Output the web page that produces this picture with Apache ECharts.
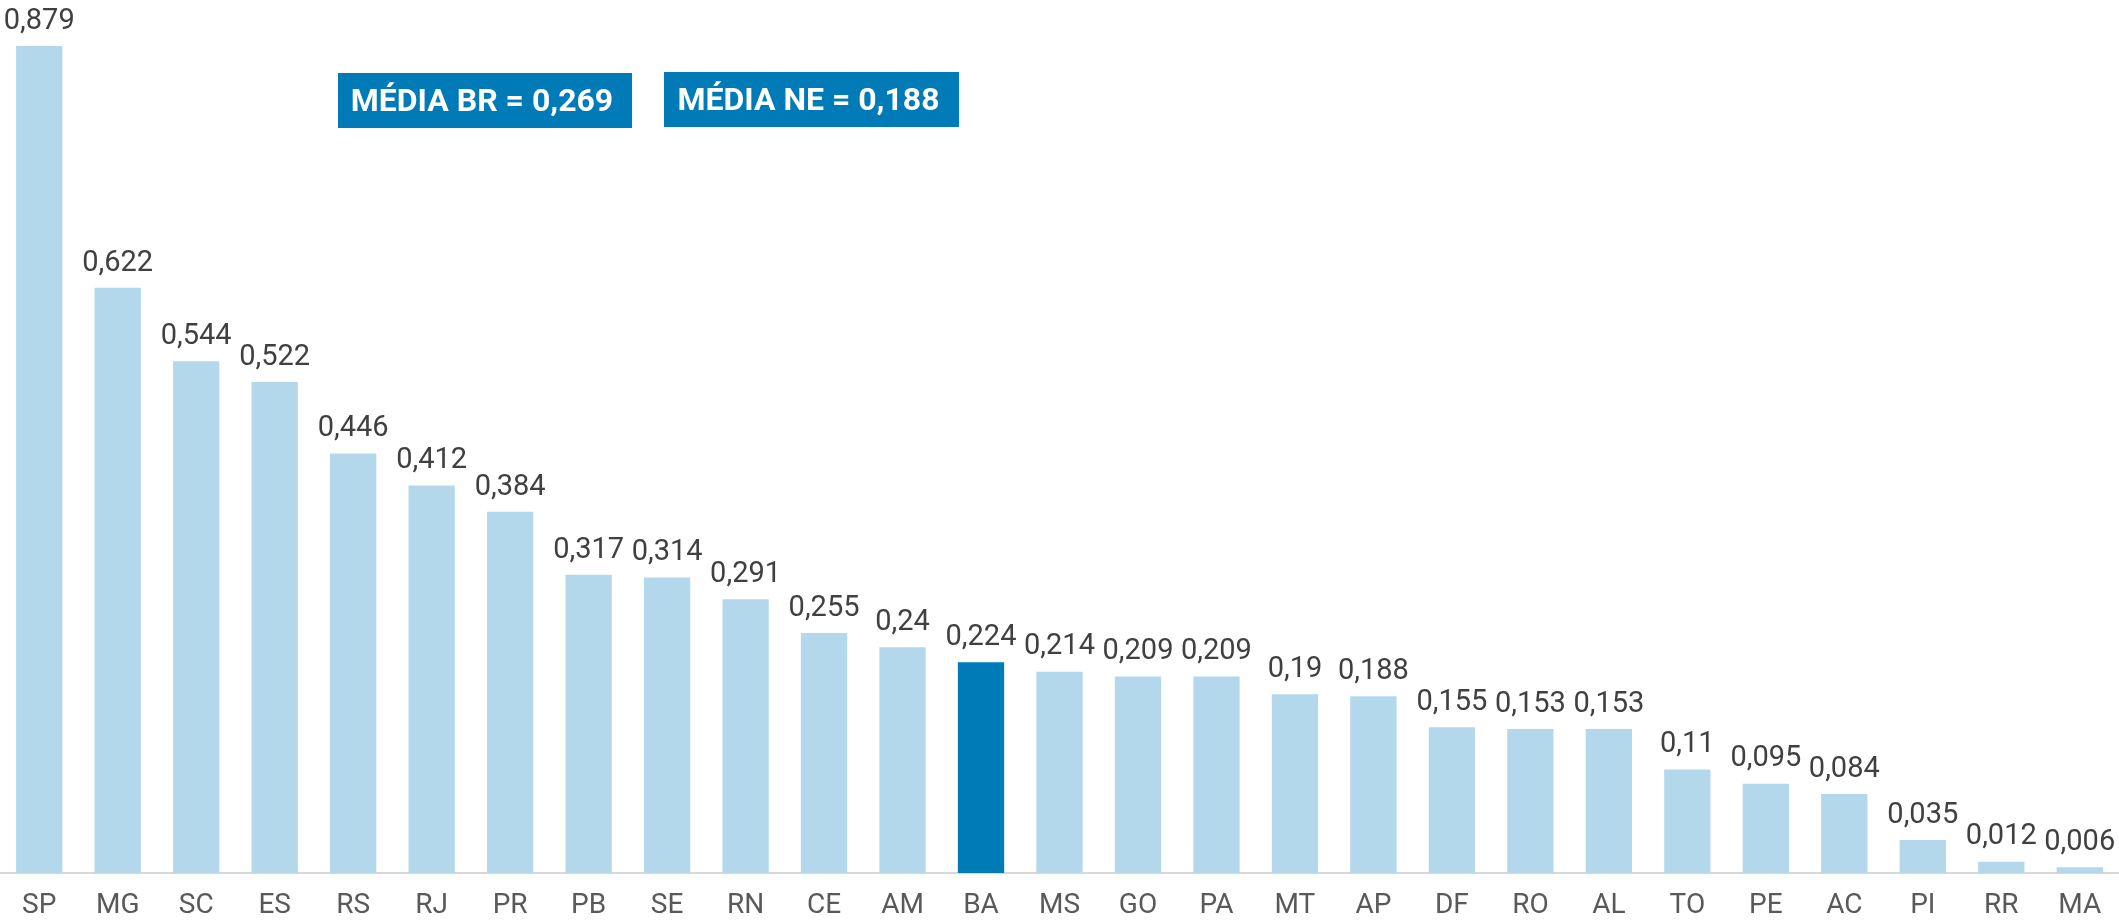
<!DOCTYPE html>
<html>
<head>
<meta charset="utf-8">
<script src="https://cdn.jsdelivr.net/npm/echarts@6/dist/echarts.min.js"></script>
<style>
  html, body { margin: 0; padding: 0; background: #fff; }
  #chart { width: 2119px; height: 922px; }
</style>
</head>
<body>
<div id="chart"></div>
<script>
const states = ['SP', 'MG', 'SC', 'ES', 'RS', 'RJ', 'PR', 'PB', 'SE', 'RN', 'CE', 'AM', 'BA', 'MS',
  'GO', 'PA', 'MT', 'AP', 'DF', 'RO', 'AL', 'TO', 'PE', 'AC', 'PI', 'RR', 'MA']
const values = [0.879, 0.622, 0.544, 0.522, 0.446, 0.412, 0.384, 0.317, 0.314, 0.291, 0.255, 0.24, 0.224, 0.214,
  0.209, 0.209, 0.19, 0.188, 0.155, 0.153, 0.153, 0.11, 0.095, 0.084, 0.035, 0.012, 0.006]
const highlight = 'BA'
const notes = ['MÉDIA BR = 0,269', 'MÉDIA NE = 0,188']

const light = '#b3d8eb'
const dark = '#007bb8'

const chart = echarts.init(document.getElementById('chart'))

// the two average boxes at the top
const noteBoxes = [
  { x: 338, y: 73, w: 294, h: 55 },
  { x: 664, y: 72, w: 295, h: 55 }
]
const graphic = []
notes.forEach((txt, i) => {
  const b = noteBoxes[i]
  graphic.push({
    type: 'rect',
    shape: { x: b.x, y: b.y, width: b.w, height: b.h },
    style: { fill: dark }
  })
  graphic.push({
    type: 'text',
    x: b.x + b.w / 2 - 3,
    y: b.y + b.h / 2 + 2,
    style: {
      text: txt,
      fill: '#fff',
      font: 'bold 32px Roboto',
      align: 'center',
      verticalAlign: 'middle'
    }
  })
})

chart.setOption({
  animation: false,
  grid: { left: 0, right: 0, top: 0, bottom: 49 },
  xAxis: {
    type: 'category',
    data: states,
    axisTick: { show: false },
    axisLine: { lineStyle: { color: '#d9d9d9', width: 2 } },
    axisLabel: { color: '#595959', fontSize: 28, fontFamily: 'Roboto', margin: 19, interval: 0 }
  },
  yAxis: {
    type: 'value',
    min: 0,
    max: 0.928,
    show: false,
    splitLine: { show: false }
  },
  graphic: graphic,
  series: [{
    type: 'bar',
    barCategoryGap: '41%',
    data: values.map((v, i) => ({
      value: v,
      itemStyle: { color: states[i] === highlight ? dark : light }
    })),
    label: {
      show: true,
      position: 'top',
      distance: 10,
      color: '#404040',
      fontSize: 29,
      fontFamily: 'Roboto',
      formatter: (p) => String(p.value).replace('.', ',')
    }
  }]
})
</script>
</body>
</html>
